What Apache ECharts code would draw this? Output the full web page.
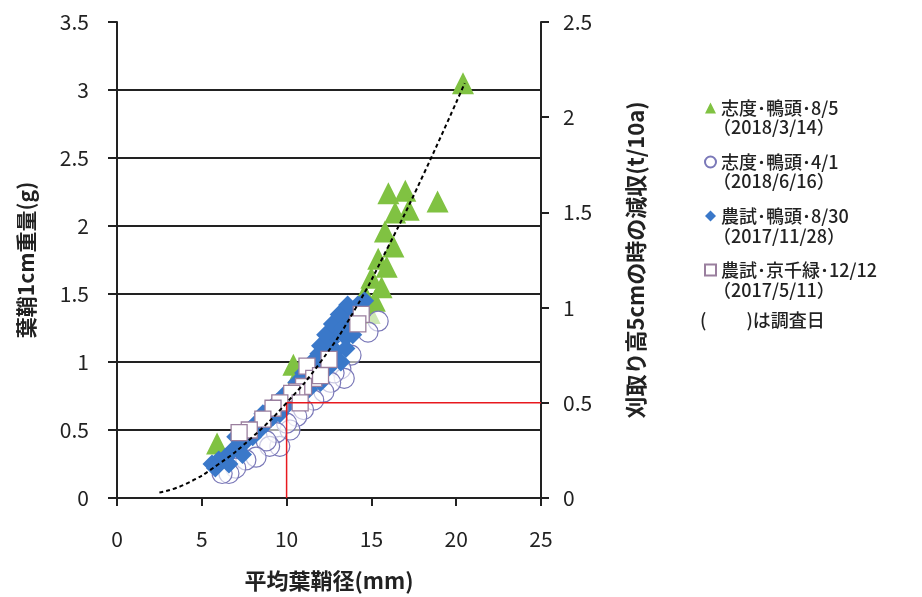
<!DOCTYPE html>
<html>
<head>
<meta charset="utf-8">
<script src="https://cdn.jsdelivr.net/npm/echarts@6/dist/echarts.min.js"></script>
<style>
    html, body { margin: 0; padding: 0; background: #fff; }
    #chart { width: 922px; height: 597px; }
</style>
</head>
<body>
<div id="chart"></div>
<script>
    // data: [葉鞘径 mm, 葉鞘1cm重量 g]
    var seriesNames = ['志度･鴨頭･8/5', '志度･鴨頭･4/1', '農試･鴨頭･8/30', '農試･京千緑･12/12'];
    var surveyDates = ['（2018/3/14）', '（2018/6/16）', '（2017/11/28）', '（2017/5/11）'];

    var shidoAug = [
        [20.4, 3.05], [16.0, 2.24], [17.0, 2.26], [18.9, 2.18], [17.2, 2.12], [16.4, 2.1],
        [15.8, 1.96], [16.3, 1.85], [15.4, 1.76], [15.9, 1.7], [15.0, 1.62], [15.6, 1.55],
        [14.6, 1.5], [15.2, 1.45], [14.3, 1.42], [14.9, 1.36],
        [10.4, 0.98], [10.7, 0.92], [5.9, 0.4]
    ];
    var shidoApr = [
        [15.4, 1.3], [14.8, 1.22], [13.8, 1.05], [13.2, 0.95], [13.4, 0.88], [12.8, 0.92],
        [12.6, 0.85], [12.2, 0.78], [11.6, 0.72], [11.0, 0.65], [10.6, 0.6], [10.2, 0.5],
        [10.0, 0.55], [9.6, 0.38], [9.4, 0.48], [9.0, 0.38], [8.8, 0.42], [8.2, 0.3],
        [7.6, 0.28], [7.0, 0.22], [6.6, 0.18], [6.2, 0.18]
    ];
    var noshiKamo = [
        [14.6, 1.45], [14.2, 1.42], [13.8, 1.38], [14.0, 1.3], [13.4, 1.3], [13.0, 1.22],
        [13.5, 1.18], [12.6, 1.15], [12.9, 1.08], [12.2, 1.05], [13.2, 1.0], [11.8, 0.98],
        [12.4, 0.95], [11.6, 0.9], [11.2, 0.85], [10.8, 0.78], [10.4, 0.72], [10.0, 0.68],
        [9.6, 0.62], [9.2, 0.6], [8.8, 0.55], [8.4, 0.5], [8.0, 0.45], [7.6, 0.42],
        [7.2, 0.38], [6.8, 0.35], [6.4, 0.3], [6.0, 0.28], [5.6, 0.25], [5.8, 0.22],
        [6.6, 0.25], [7.4, 0.32],
        [12.0, 1.12], [12.3, 1.2], [12.7, 1.28], [13.1, 1.35], [13.6, 1.42], [11.5, 1.0],
        [11.9, 1.06], [12.8, 1.0], [13.5, 1.1], [13.9, 1.2], [14.3, 1.35], [11.0, 0.92],
        [10.6, 0.85], [11.3, 0.8], [12.0, 0.85], [9.8, 0.75], [9.4, 0.7], [9.0, 0.65],
        [8.6, 0.62], [8.2, 0.55], [7.8, 0.5], [7.0, 0.45], [13.3, 1.25], [12.5, 1.1]
    ];
    var noshiKyo = [
        [14.4, 1.35], [14.2, 1.28], [12.5, 1.02], [11.2, 0.97], [11.6, 0.88], [12.0, 0.9],
        [11.0, 0.82], [10.6, 0.78], [10.3, 0.77], [10.8, 0.7], [9.6, 0.7], [9.2, 0.66],
        [8.6, 0.58], [7.8, 0.5], [7.2, 0.48]
    ];
    // dashed regression curve
    var curvePts = [
        [2.5, 0.04], [4, 0.1], [6, 0.25], [8, 0.45], [10, 0.7], [12, 1.0],
        [14, 1.38], [16, 1.85], [18, 2.36], [20.5, 3.05]
    ];
    // red guide: 10mm -> 0.5 t/10a
    var guidePts = [[10, 0], [10, 0.7], [25, 0.7]];

    var xTicks = [0, 25, 5];
    var yLeft = [0, 3.5, 0.5];
    var yRight = [0, 2.5, 0.5];

    var font = '"Noto Sans CJK JP", "Noto Sans", sans-serif';
    var dark = '#222';

    var chart = echarts.init(document.getElementById('chart'));
    var option = {
        animation: false,
        backgroundColor: '#fff',
        textStyle: { fontFamily: font },
        grid: { left: 117, right: 381, top: 22, bottom: 95, containLabel: false },
        legend: {
            orient: 'vertical',
            left: 699,
            top: 93,
            itemWidth: 11,
            itemHeight: 11,
            itemGap: 34,
            data: seriesNames,
            textStyle: { fontSize: 18, color: dark, lineHeight: 20, fontFamily: font, fontWeight: 500 }
        },
        xAxis: {
            type: 'value',
            min: xTicks[0], max: xTicks[1], interval: xTicks[2],
            name: '平均葉鞘径(mm)',
            nameLocation: 'middle',
            nameGap: 72,
            nameTextStyle: { fontSize: 22, fontWeight: 'bold', color: dark },
            axisLine: { lineStyle: { color: dark, width: 2 } },
            axisTick: { length: 8, lineStyle: { color: dark, width: 2 } },
            axisLabel: { fontSize: 21, color: dark, margin: 31 },
            splitLine: { show: false }
        },
        yAxis: [{
            type: 'value',
            min: yLeft[0], max: yLeft[1], interval: yLeft[2],
            name: '葉鞘1cm重量(g)',
            nameLocation: 'middle',
            nameGap: 80,
            nameTextStyle: { fontSize: 21, fontWeight: 'bold', color: dark },
            axisLine: { show: true, lineStyle: { color: dark, width: 2 } },
            axisTick: { show: true, length: 9, lineStyle: { color: dark, width: 2 } },
            axisLabel: { fontSize: 21, color: dark, margin: 28 },
            splitLine: { show: true, showMaxLine: false, showMinLine: false, lineStyle: { color: dark, width: 2 } }
        }, {
            type: 'value',
            position: 'right',
            min: yRight[0], max: yRight[1], interval: yRight[2],
            name: '刈取り高5cmの時の減収(t/10a)',
            nameLocation: 'middle',
            nameGap: 84,
            nameRotate: 90,
            nameTextStyle: { fontSize: 22, fontWeight: 'bold', color: dark },
            axisLine: { show: true, lineStyle: { color: dark, width: 2 } },
            axisTick: { show: true, length: 8, lineStyle: { color: dark, width: 2 } },
            axisLabel: { fontSize: 21, color: dark, margin: 22 },
            splitLine: { show: false }
        }],
        series: [{
            name: seriesNames[0],
            type: 'scatter',
            symbol: 'triangle',
            symbolSize: 22,
            itemStyle: { color: '#80c242', opacity: 1 },
            data: shidoAug,
            z: 2
        }, {
            name: seriesNames[1],
            type: 'scatter',
            symbol: 'circle',
            symbolSize: 20,
            itemStyle: { color: 'rgba(255,255,255,0.6)', borderColor: '#7a78b8', borderWidth: 1.2, opacity: 1 },
            data: shidoApr,
            z: 3
        }, {
            name: seriesNames[2],
            type: 'scatter',
            symbol: 'diamond',
            symbolSize: 19,
            itemStyle: { color: '#3a78c9', opacity: 1 },
            data: noshiKamo,
            z: 4
        }, {
            name: seriesNames[3],
            type: 'scatter',
            symbol: 'rect',
            symbolSize: 16,
            itemStyle: { color: '#fff', borderColor: '#9a7f9e', borderWidth: 1.3, opacity: 1 },
            data: noshiKyo,
            z: 5
        }, {
            type: 'line',
            data: curvePts,
            smooth: true,
            symbol: 'none',
            lineStyle: { color: '#000', width: 2, type: [4, 3] },
            z: 7,
            silent: true
        }, {
            type: 'line',
            data: guidePts,
            symbol: 'none',
            lineStyle: { color: '#e8191e', width: 1.5 },
            z: 6,
            silent: true
        }],
        graphic: surveyDates.map(function (d, i) {
            return {
                type: 'text',
                left: 713,
                top: 118 + i * 54.5,
                style: { text: d, fontSize: 18, fill: dark, fontFamily: font, fontWeight: 500 }
            };
        }).concat([{
            type: 'text',
            left: 700,
            top: 311,
            style: { text: '(　　 )は調査日', fontSize: 18, fill: dark, fontFamily: font, fontWeight: 500 }
        }])
    };
    chart.setOption(option);
</script>
</body>
</html>
